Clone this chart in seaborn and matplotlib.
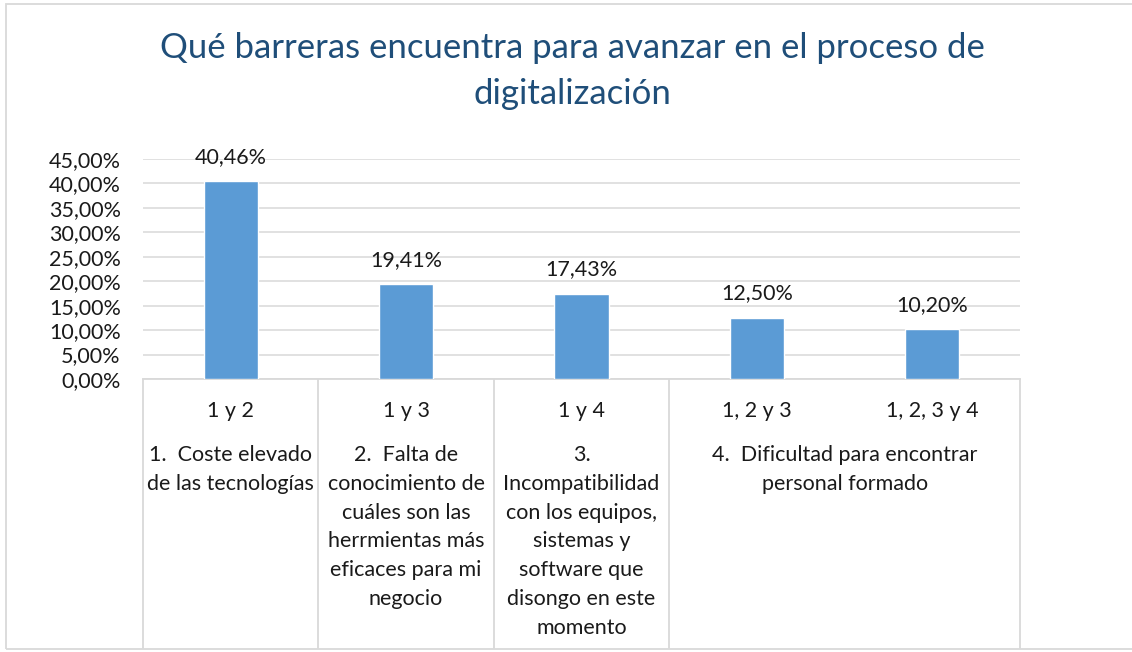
import pandas as pd
import matplotlib.pyplot as plt
import seaborn as sns
from matplotlib.patches import Rectangle
from matplotlib.lines import Line2D

# Chart data
combos = ["1 y 2", "1 y 3", "1 y 4", "1, 2 y 3", "1, 2, 3 y 4"]
values = [0.4046, 0.1941, 0.1743, 0.1250, 0.1020]
group_of = [0, 1, 2, 3, 3]
group_labels = [
    "1.  Coste elevado\nde las tecnologías",
    "2.  Falta de\nconocimiento de\ncuáles son las\nherrmientas más\neficaces para mi\nnegocio",
    "3.\nIncompatibilidad\ncon los equipos,\nsistemas y\nsoftware que\ndisongo en este\nmomento",
    "4.  Dificultad para encontrar\npersonal formado",
]
title = "Qué barreras encuentra para avanzar en el proceso de\ndigitalización"

df = pd.DataFrame({"combo": combos, "value": values})

sns.set_theme(style="white")
plt.rcParams["font.family"] = ["Lato", "DejaVu Sans"]

W, H = 1132, 652
fig = plt.figure(figsize=(W / 100, H / 100), dpi=100)
ax = fig.add_axes([143 / W, (H - 379) / H, (1020 - 143) / W, 220 / H])

grid_c = "#D9D9D9"
text_c = "#1a1a1a"
fs = 15.5

sns.barplot(data=df, x="combo", y="value", color="#5B9BD5", width=0.31,
            saturation=1, ax=ax, zorder=3)

ax.set_ylim(0, 0.45)
ax.set_xlim(-0.5, len(combos) - 0.5)
ax.set_yticks([i * 0.05 for i in range(10)])
ax.set_yticklabels([f"{t * 100:.2f}%".replace(".", ",") for t in ax.get_yticks()],
                   fontsize=fs, color=text_c)
ax.tick_params(axis="y", length=0, pad=16)
ax.set_xticks([])
ax.set_xlabel("")
ax.set_ylabel("")
ax.grid(axis="y", color=grid_c, linewidth=1.1, zorder=0)
for s in ["left", "right", "top"]:
    ax.spines[s].set_visible(False)
ax.spines["bottom"].set_color(grid_c)
ax.spines["bottom"].set_linewidth(1.3)

# value labels
for i, v in enumerate(values):
    ax.text(i, v + 0.05, f"{v * 100:.2f}%".replace(".", ","), ha="center",
            va="center", fontsize=fs, color=text_c)

# multi-level category axis
px = 1 / 220  # axes fraction per pixel
xt = ax.get_xaxis_transform()
for i, c in enumerate(combos):
    ax.text(i, -32 * px, c, transform=xt, ha="center", va="center",
            fontsize=fs, color=text_c)

for g, lab in enumerate(group_labels):
    members = [i for i, gg in enumerate(group_of) if gg == g]
    cx = (members[0] + members[-1]) / 2
    ax.text(cx, -66 * px, lab, transform=xt, ha="center", va="top",
            fontsize=fs, color=text_c, linespacing=1.55)

# separators between groups
edges = [-0.5] + [i + 0.5 for i in range(len(group_of) - 1)
                  if group_of[i] != group_of[i + 1]] + [len(group_of) - 0.5]
for e in edges:
    ax.add_line(Line2D([e, e], [0, -269 * px], transform=xt, color=grid_c,
                       linewidth=1.3, clip_on=False))

# title
fig.text(572 / W, (H - 71) / H, title, ha="center", va="center", fontsize=25,
         color="#1F4E79", linespacing=1.5)

# outer chart border
fig.patches.append(Rectangle((6 / W, (H - 649) / H), 2, 645 / H,
                             transform=fig.transFigure, fill=False,
                             edgecolor=grid_c, linewidth=1.3))

fig.savefig("out.png", dpi=100)
